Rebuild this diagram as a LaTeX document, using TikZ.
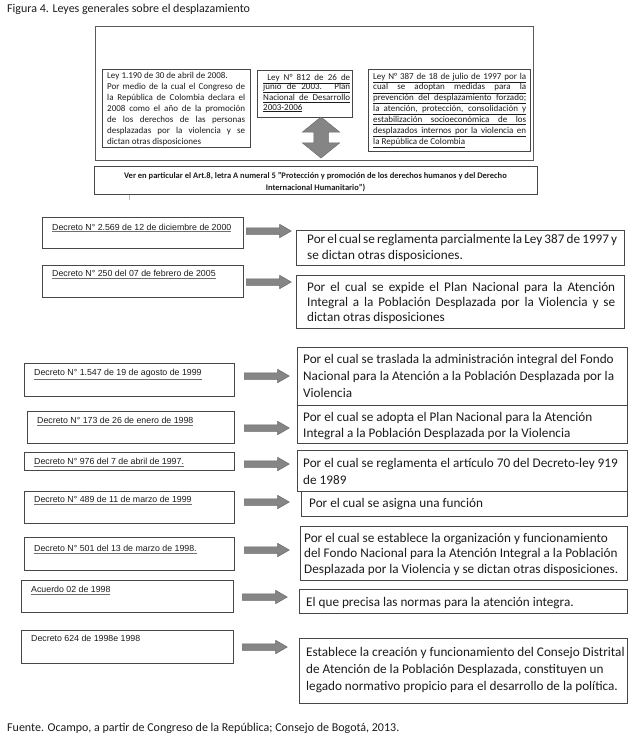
\documentclass[tikz,border=0pt]{standalone}
\usepackage{fontspec}
\setmainfont{Carlito}
\newfontfamily\arialf{Liberation Sans}
\usetikzlibrary{shapes.arrows}
\definecolor{boxc}{HTML}{474747}
\definecolor{outc}{HTML}{5A5A5A}
\definecolor{arrc}{HTML}{858585}
\definecolor{arrd}{HTML}{6A6A6A}
\definecolor{txt}{HTML}{1C1C1C}
\definecolor{ulc}{HTML}{6E6E6E}
\newcommand\J[1]{\makebox[\linewidth][s]{#1}}
\newcommand\UJ[1]{\underline{\makebox[\linewidth][s]{#1}}}
\newcommand\tb[4]{\parbox[t]{#1pt}{\fontsize{#2}{#3}\selectfont\raggedright #4}}
\newcommand\gul[1]{{\color{ulc}\underline{\color{txt}#1}}}
\tikzset{
  frame/.style={draw=boxc, line width=0.9pt, inner sep=0pt, anchor=north west},
  txtnode/.style={inner sep=0pt, anchor=base west, text=txt},
  dectext/.style={inner sep=0pt, anchor=base west, text=txt, font=\arialf\fontsize{8.8}{10}\selectfont},
  blk/.style={single arrow, draw=arrd, fill=arrc, line width=0.5pt, minimum height=45pt,
    single arrow head extend=3.5pt, inner sep=3pt, single arrow tip angle=60, anchor=west},
}
\begin{document}
\begin{tikzpicture}[x=1pt,y=1pt]
\useasboundingbox[fill=white] (0,0) rectangle (633,-742);

\node[txtnode, font=\fontsize{12}{14}\selectfont] (title) at (7,-12) {Figura 4. Leyes generales sobre el desplazamiento};

% top group
\node[frame, draw=outc, line width=1.2pt, minimum width=438pt, minimum height=134pt] (outer) at (95,-26) {};
\node[frame, minimum width=148pt, minimum height=78pt] (b1190) at (102,-69) {};
\node[frame, minimum width=95pt, minimum height=47pt] (b812) at (257,-70) {};
\node[frame, minimum width=162pt, minimum height=82pt] (b387) at (368,-69) {};
\node[frame, minimum width=443pt, minimum height=28pt] (ver) at (94,-166) {};

\node[txtnode] (t1190) at (107,-78) {\tb{138}{9}{11.1}{%
Ley 1.190 de 30 de abril de 2008.\\
\J{Por medio de la cual el Congreso de}\\
\J{la República de Colombia declara el}\\
\J{2008 como el año de la promoción}\\
\J{de los derechos de las personas}\\
\J{desplazadas por la violencia y se}\\
dictan otras disposiciones}};

\node[txtnode] (t812) at (263,-80) {\tb{87}{9}{9.7}{%
\UJ{\ Ley N° 812 de 26 de}\\
\UJ{junio de 2003. Plan}\\
\UJ{Nacional de Desarrollo}\\
\underline{2003-2006}}};

\node[txtnode] (t387) at (373,-79) {\tb{153}{9}{10.9}{%
\UJ{Ley N° 387 de 18 de julio de 1997 por la}\\
\UJ{cual se adoptan medidas para la}\\
\UJ{prevención del desplazamiento forzado;}\\
\UJ{la atención, protección, consolidación y}\\
\UJ{estabilización socioeconómica de los}\\
\UJ{desplazados internos por la violencia en}\\
\underline{la República de Colombia}}};

\node[double arrow, rotate=90, draw=arrd, fill=arrc, line width=0.5pt, minimum height=41pt,
  inner sep=7pt, double arrow head extend=11.5pt, double arrow tip angle=102] (dbl) at (321,-137.5) {};

\node[inner sep=0pt, anchor=base, text=txt, align=center, font=\bfseries\fontsize{8.5}{11.5}\selectfont] (tver) at (315.5,-190)
 {Ver en particular el Art.8, letra A numeral 5 "Protección y promoción de los derechos humanos y del Derecho\\Internacional Humanitario")};
\draw[gray!55, line width=0.5pt] (129,-195) -- (129,-200);

% left boxes
\node[frame, minimum width=201pt, minimum height=31pt] (L1) at (42,-217) {};
\node[frame, minimum width=201pt, minimum height=32pt] (L2) at (42,-265) {};
\node[frame, minimum width=210pt, minimum height=33pt] (L3) at (24,-363) {};
\node[frame, minimum width=207pt, minimum height=32pt] (L4) at (27,-411) {};
\node[frame, minimum width=210pt, minimum height=18pt] (L5) at (24,-452) {};
\node[frame, minimum width=210pt, minimum height=32pt] (L6) at (24,-491) {};
\node[frame, minimum width=210pt, minimum height=33pt] (L7) at (24,-537) {};
\node[frame, minimum width=212pt, minimum height=32pt] (L8) at (21,-580) {};
\node[frame, minimum width=212pt, minimum height=33pt] (L9) at (21,-630) {};

\node[dectext] (l1) at (52,-230) {\gul{Decreto N° 2.569 de 12 de diciembre de 2000}};
\node[dectext] (l2) at (52,-276.5) {\gul{Decreto N° 250 del 07 de febrero de 2005}};
\node[dectext] (l3) at (34,-375.5) {\gul{Decreto N° 1.547 de 19 de agosto de 1999}};
\node[dectext] (l4) at (37,-423.5) {\gul{Decreto N° 173 de 26 de enero de 1998}};
\node[dectext] (l5) at (34,-464.5) {\gul{Decreto N° 976 del 7 de abril de 1997.}};
\node[dectext] (l6) at (34,-502.5) {\gul{Decreto N° 489 de 11 de marzo de 1999}};
\node[dectext] (l7) at (34,-551.5) {\gul{Decreto N° 501 del 13 de marzo de 1998.}};
\node[dectext] (l8) at (31,-592.5) {\gul{Acuerdo 02 de 1998}};
\node[dectext] (l9) at (31,-641.5) {Decreto 624 de 1998e 1998};

% right boxes
\node[frame, minimum width=328pt, minimum height=35pt] (R1) at (296,-230) {};
\node[frame, minimum width=328pt, minimum height=53pt] (R2) at (296,-275) {};
\node[frame, minimum width=330pt, minimum height=58pt] (R3) at (297,-347) {};
\node[frame, minimum width=330pt, minimum height=38pt] (R4) at (297,-405) {};
\node[frame, minimum width=330pt, minimum height=41pt] (R5) at (297,-450) {};
\node[frame, minimum width=326pt, minimum height=25pt] (R6) at (301,-491) {};
\node[frame, minimum width=327pt, minimum height=54pt] (R7) at (300,-526) {};
\node[frame, minimum width=328pt, minimum height=24pt] (R8) at (299,-589) {};
\node[frame, minimum width=328pt, minimum height=65pt] (R9) at (299,-638) {};

\node[txtnode] (r1) at (307,-243) {\tb{310}{13.2}{16}{%
\J{Por el cual se reglamenta parcialmente la Ley 387 de 1997 y}\\
se dictan otras disposiciones.}};
\node[txtnode] (r2) at (307,-291) {\tb{308}{13.2}{15.3}{%
\J{Por el cual se expide el Plan Nacional para la Atención}\\
\J{Integral a la Población Desplazada por la Violencia y se}\\
dictan otras disposiciones}};
\node[txtnode] (r3) at (303,-363.5) {\tb{330}{13.2}{17}{%
Por el cual se traslada la administración integral del Fondo\\
Nacional para la Atención a la Población Desplazada por la\\
Violencia}};
\node[txtnode] (r4) at (303,-421) {\tb{330}{13.2}{16.5}{%
Por el cual se adopta el Plan Nacional para la Atención\\
Integral a la Población Desplazada por la Violencia}};
\node[txtnode] (r5) at (303,-467) {\tb{330}{13.2}{17}{%
Por el cual se reglamenta el artículo 70 del Decreto-ley 919\\
de 1989}};
\node[txtnode] (r6) at (309,-507) {\tb{310}{13.2}{16}{Por el cual se asigna una función}};
\node[txtnode] (r7) at (304,-542) {\tb{330}{13.2}{15.7}{%
Por el cual se establece la organización y funcionamiento\\
del Fondo Nacional para la Atención Integral a la Población\\
Desplazada por la Violencia y se dictan otras disposiciones.}};
\node[txtnode] (r8) at (306,-606) {\tb{318}{13.2}{16}{El que precisa las normas para la atención integra.}};
\node[txtnode] (r9) at (306,-656) {\tb{330}{13.2}{17}{%
Establece la creación y funcionamiento del Consejo Distrital\\
de Atención de la Población Desplazada, constituyen un\\
legado normativo propicio para el desarrollo de la política.}};

% block arrows
\node[blk] (a1) at (246,-231) {};
\node[blk] (a2) at (246,-282) {};
\node[blk] (a3) at (244,-376) {};
\node[blk] (a4) at (244,-428) {};
\node[blk] (a5) at (244,-464) {};
\node[blk] (a6) at (244,-502) {};
\node[blk] (a7) at (244,-550) {};
\node[blk] (a8) at (242,-597) {};
\node[blk] (a9) at (242,-647) {};

\node[txtnode, font=\fontsize{12}{14}\selectfont] (foot) at (7,-731) {Fuente. Ocampo, a partir de Congreso de la República; Consejo de Bogotá, 2013.};
\end{tikzpicture}
\end{document}
